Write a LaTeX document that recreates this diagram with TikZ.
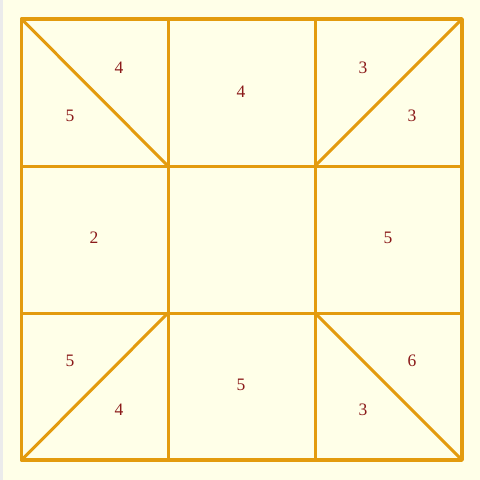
\documentclass[tikz,border=0pt]{standalone}
\usepackage{fontspec}
\setmainfont{Liberation Serif}
\definecolor{bg}{HTML}{FFFFE8}
\definecolor{ln}{HTML}{E39B0E}
\definecolor{tx}{HTML}{8B1A1A}
\begin{document}
\begin{tikzpicture}[x=1pt,y=-1pt,
  edge/.style={draw=ln,line width=3pt,line cap=round,line join=round},
  lbl/.style={text=tx,font=\fontsize{17.5}{17.5}\selectfont,inner sep=0pt}]
\useasboundingbox (0,0) rectangle (480,480);
\fill[bg] (0,0) rectangle (480,480);
\fill[black!8] (0,0) rectangle (3,480);
\coordinate (a0) at (21.5,19);
\coordinate (a1) at (168,19);
\coordinate (a2) at (315,19);
\coordinate (a3) at (462,19);
\coordinate (b0) at (21.5,166);
\coordinate (b1) at (168,166);
\coordinate (b2) at (315,166);
\coordinate (b3) at (462,166);
\coordinate (c0) at (21.5,313);
\coordinate (c1) at (168,313);
\coordinate (c2) at (315,313);
\coordinate (c3) at (462,313);
\coordinate (d0) at (21.5,460);
\coordinate (d1) at (168,460);
\coordinate (d2) at (315,460);
\coordinate (d3) at (462,460);
\draw[edge,line width=3.5pt] (a0) rectangle (d3);
\draw[edge] (a1) -- (d1);
\draw[edge] (a2) -- (d2);
\draw[edge] (b0) -- (b3);
\draw[edge] (c0) -- (c3);
\draw[edge] (a0) -- (b1);
\draw[edge] (a3) -- (b2);
\draw[edge] (c1) -- (d0);
\draw[edge] (c2) -- (d3);
\node[lbl] (t1) at (119,68) {4};
\node[lbl] (t2) at (70,116) {5};
\node[lbl] (t3) at (241,92) {4};
\node[lbl] (t4) at (363,68) {3};
\node[lbl] (t5) at (412,116) {3};
\node[lbl] (t6) at (94,238) {2};
\node[lbl] (t7) at (388,238) {5};
\node[lbl] (t8) at (70,361) {5};
\node[lbl] (t9) at (119,410) {4};
\node[lbl] (t10) at (241,385) {5};
\node[lbl] (t11) at (412,361) {6};
\node[lbl] (t12) at (363,410) {3};
\end{tikzpicture}
\end{document}
